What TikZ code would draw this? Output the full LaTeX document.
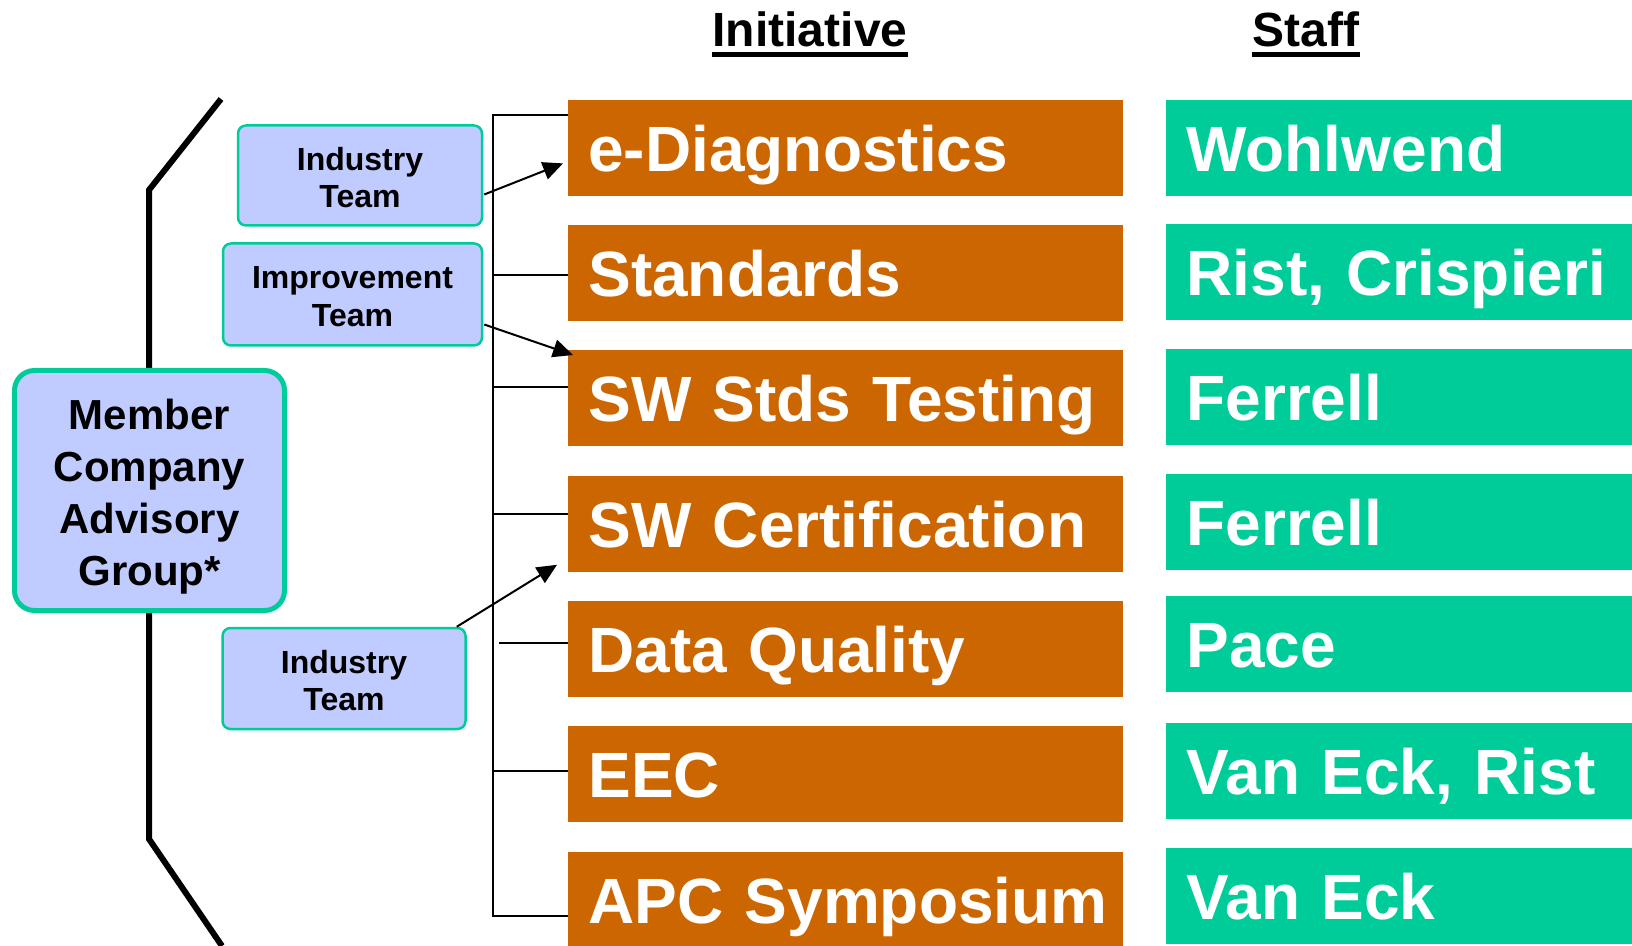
\documentclass[tikz,border=0pt]{standalone}
\usepackage{fontspec}
\setmainfont{Liberation Sans}
\usetikzlibrary{arrows.meta,calc}
\definecolor{initorange}{RGB}{204,102,0}
\definecolor{staffgreen}{RGB}{0,204,153}
\definecolor{teamblue}{RGB}{192,204,255}
\tikzset{
  initbox/.style={fill=initorange,text=white,anchor=north west,inner xsep=10pt,inner ysep=0pt,
    text width=257.5pt,align=left,text height=35.5pt,text depth=12.5pt,
    font=\fontsize{32}{38}\selectfont\bfseries},
  staffbox/.style={initbox,fill=staffgreen,text width=213pt},
  teambox/.style={draw=staffgreen,fill=teamblue,line width=1.25pt,rounded corners=4pt,inner sep=0pt},
  teamtext/.style={align=center,inner sep=0pt,font=\fontsize{16}{18.75}\selectfont\bfseries},
  mcagbox/.style={teambox,line width=2.5pt,rounded corners=10pt,minimum width=135pt,minimum height=120pt},
  mcagtext/.style={teamtext,font=\fontsize{21}{26}\selectfont\bfseries},
  heading/.style={anchor=base,inner sep=0pt,font=\fontsize{24}{28}\selectfont\bfseries},
  tie/.style={line width=1pt},
  feed/.style={line width=1pt,-{Triangle[length=10pt,width=9pt]}},
}
\begin{document}
\begin{tikzpicture}[x=0.5pt,y=-0.5pt]
\useasboundingbox (0,0) rectangle (1632,946);
% column headings
\node[heading] (inihead) at (810,47) {Initiative};
\node[heading] (stfhead) at (1306,47) {Staff};
\draw[line width=2.5pt] ([yshift=-3.75pt]inihead.base west) -- ([yshift=-3.75pt]inihead.base east);
\draw[line width=2.5pt] ([yshift=-3.75pt]stfhead.base west) -- ([yshift=-3.75pt]stfhead.base east);
% initiatives and staff
\foreach \i/\yo/\yg/\ini/\stf in {1/100/100/e-Diagnostics/Wohlwend,
  2/225/224/Standards/{Rist, Crispieri}, 3/350/349/SW Stds Testing/Ferrell,
  4/476/474/SW Certification/Ferrell, 5/601/596/Data Quality/Pace,
  6/726/723/EEC/{Van Eck, Rist}, 7/852/848/APC Symposium/Van Eck}{
  \node[initbox] (ini\i) at (568,\yo) {\mbox{\ini}};
  \node[staffbox] (stf\i) at (1166,\yg) {\mbox{\stf}};
}
% spine
\path (493,115) coordinate (s1) (493,275) coordinate (s2) (493,387) coordinate (s3)
(493,514) coordinate (s4) (499,643) coordinate (s5) (493,771) coordinate (s6) (493,916) coordinate (s7);
\draw[tie] (s1 -| ini1.west) -- (s1) -- (s7) -- (s7 -| ini7.west);
\draw[tie] (s2) -- (s2 -| ini2.west) (s3) -- (s3 -| ini3.west) (s4) -- (s4 -| ini4.west)
(s5) -- (s5 -| ini5.west) (s6) -- (s6 -| ini6.west);
% left bracket
\path (221,99) coordinate (t1) (149,190) coordinate (t2) (149,839) coordinate (t3) (222,946) coordinate (t4);
\draw[line width=3pt] (t1) -- (t2) -- (t3) -- (t4);
\node[mcagbox] (mcag) at (149.5,490.5) {};
\node[mcagtext] (mcagname) at ($(mcag)+(0,6)$) {Member\\Company\\Advisory\\Group*};
% teams
\node[teambox,minimum width=122pt,minimum height=50pt] (team1) at (360,175.5) {};
\node[teambox,minimum width=129.5pt,minimum height=51pt] (team2) at (352.5,294.5) {};
\node[teambox,minimum width=121.5pt,minimum height=50.5pt] (team3) at (344,678.5) {};
\node[teamtext] (team1name) at ($(team1)+(0,2)$) {Industry\\Team};
\node[teamtext] (team2name) at ($(team2)+(0,2)$) {Improvement\\Team};
\node[teamtext] (team3name) at ($(team3)+(0,2)$) {Industry\\Team};
\draw[feed] ($(team1.east)+(1,19)$) -- ($(ini1.west)+(-5,15)$);
\draw[feed] ($(team2.east)+(1,30)$) -- ($(ini3.north west)+(5,5)$);
\draw[feed] ($(team3.north east)+(-10,0)$) -- ($(ini4.south west)+(-11,-8)$);
\end{tikzpicture}
\end{document}
